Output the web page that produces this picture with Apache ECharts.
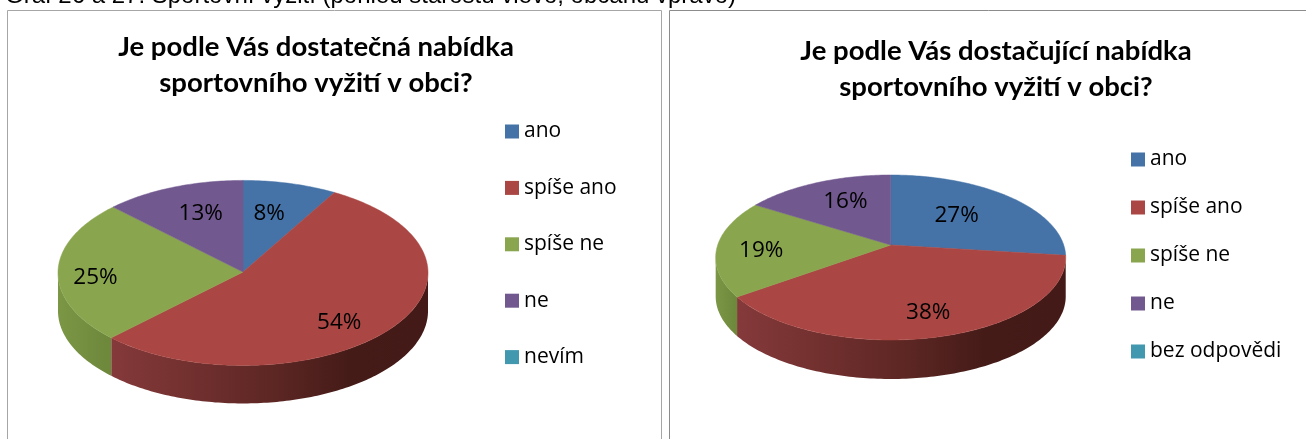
<!DOCTYPE html>
<html>
<head>
<meta charset="utf-8">
<title>Graf 26 a 27</title>
<script src="https://cdn.jsdelivr.net/npm/echarts@6/dist/echarts.min.js"></script>
<style>
html, body { margin: 0; padding: 0; background: #fff; }
#main { width: 1306px; height: 439px; }
</style>
</head>
<body>
<div id="main"></div>
<script>
var caption = 'Graf 26 a 27: Sportovní vyžití (pohled starostů vlevo, občanů vpravo)';
var titleLeft = 'Je podle Vás dostatečná nabídka\nsportovního vyžití v obci?';
var titleRight = 'Je podle Vás dostačující nabídka\nsportovního vyžití v obci?';
var categoriesLeft = ['ano', 'spíše ano', 'spíše ne', 'ne', 'nevím'];
var categoriesRight = ['ano', 'spíše ano', 'spíše ne', 'ne', 'bez odpovědi'];
var valuesLeft = [8.3, 54.2, 25, 12.5, 0];
var valuesRight = [27, 38, 19, 16, 0];

var colors = ['#4572A7', '#AA4643', '#89A54E', '#71588F', '#4198AF'];
var wallStops = [
    [[0, '#39608e'], [1, '#39608e']],
    [[0, '#85393a'], [0.5, '#5e2724'], [0.75, '#451b18'], [1, '#431a17']],
    [[0, '#7b9745'], [1, '#6d873b']],
    [[0, '#5e4878'], [1, '#5e4878']],
    [[0, '#357f94'], [1, '#357f94']]
];

// pie geometry, k is the perspective of the tilted disc
var pieLeft = { x: 243, y: 272, a: 185, b: 92.5, k: 0.01, depth: 38,
    nudge: [[-7, 4], [-7, 11], [-18, 6], [7, 1], [0, 0]] };
var pieRight = { x: 890.7, y: 245, a: 173, b: 80.6, k: 0.1515, depth: 39,
    nudge: [[-19, 5], [4, 7], [-8, 4], [8, 2], [0, 0]] };

function project(pie, deg, r) {
    var t = deg * Math.PI / 180;
    var s = Math.sin(t), c = Math.cos(t);
    var w = 1 + pie.k * r * c;
    return [pie.x + pie.a * r * s / w, pie.y - pie.b * r * c / w];
}

var renderSlice = function(pie, idx) {
    return function(params, api) {
        var value = api.value(0);
        if (!value) return { type: 'group', children: [] };
        var from = api.value(1) * 3.6;
        var to = from + value * 3.6;
        var children = [];

        // side wall, only on the front half of the disc
        var side = Math.acos(-pie.k) * 180 / Math.PI;
        var w0 = Math.max(from, side), w1 = Math.min(to, 360 - side);
        if (w1 > w0) {
            var up = [], down = [];
            for (var d = w0; d < w1; d += 1) {
                var p = project(pie, d, 1);
                up.push(p);
                down.unshift([p[0], p[1] + pie.depth]);
            }
            var pe = project(pie, w1, 1);
            up.push(pe);
            down.unshift([pe[0], pe[1] + pie.depth]);
            var xs = up.map(function(q) { return q[0]; });
            var stops = wallStops[idx].map(function(st) { return { offset: st[0], color: st[1] }; });
            children.push({
                type: 'polygon',
                shape: { points: up.concat(down) },
                style: { fill: new echarts.graphic.LinearGradient(Math.min.apply(null, xs), 0, Math.max.apply(null, xs), 0, stops, true) }
            });
        }

        // top face
        var pts = [[pie.x, pie.y]];
        for (var d2 = from; d2 < to; d2 += 1) pts.push(project(pie, d2, 1));
        pts.push(project(pie, to, 1));
        children.push({
            type: 'polygon',
            shape: { points: pts },
            style: { fill: colors[idx], stroke: colors[idx], lineWidth: 0.5 }
        });

        // percent label
        var m = project(pie, (from + to) / 2, 0.7);
        children.push({
            type: 'text',
            z2: 10,
            style: {
                x: m[0] + pie.nudge[idx][0],
                y: m[1] + pie.nudge[idx][1],
                text: Math.round(value) + '%',
                fill: '#000',
                font: '22.5px "Open Sans"',
                textAlign: 'center',
                textVerticalAlign: 'middle'
            }
        });
        return { type: 'group', children: children };
    };
};

var series = [];
var addPie = function(pie, cats, vals) {
    var start = 0;
    for (var i = 0; i < cats.length; i++) {
        series.push({
            type: 'custom',
            name: cats[i],
            coordinateSystem: 'none',
            silent: true,
            itemStyle: { color: colors[i] },
            renderItem: renderSlice(pie, i),
            data: [[vals[i], start]]
        });
        start += vals[i];
    }
};
addPie(pieLeft, categoriesLeft, valuesLeft);
addPie(pieRight, categoriesRight, valuesRight);

var titleStyle = { fontFamily: 'Lato', fontWeight: 'bold', fontSize: 27.5, lineHeight: 36, color: '#000' };
var legendText = { fontFamily: 'Open Sans', fontSize: 21, color: '#000' };

var myChart = echarts.init(document.getElementById('main'));
myChart.setOption({
    animation: false,
    backgroundColor: '#fff',
    title: [
        { text: caption, left: 5, top: -16, padding: 0, textStyle: { fontFamily: 'Liberation Sans', fontWeight: 'normal', fontSize: 24, color: '#000' } },
        { text: titleLeft, left: 316, top: 29, padding: 0, textAlign: 'center', textStyle: titleStyle },
        { text: titleRight, left: 996, top: 33, padding: 0, textAlign: 'center', textStyle: titleStyle }
    ],
    legend: [
        { data: categoriesLeft, orient: 'vertical', left: 505, top: 121, padding: 0, icon: 'rect', itemWidth: 14, itemHeight: 14, itemGap: 35.4, selectedMode: false, textStyle: legendText },
        { data: categoriesRight, orient: 'vertical', left: 1131, top: 149, padding: 0, icon: 'rect', itemWidth: 14, itemHeight: 14, itemGap: 27, selectedMode: false, textStyle: legendText }
    ],
    graphic: [
        { type: 'rect', silent: true, shape: { x: 7.5, y: 10.5, width: 654, height: 500 }, style: { fill: 'none', stroke: '#a6a6a6', lineWidth: 1 } },
        { type: 'rect', silent: true, shape: { x: 669.5, y: 10.5, width: 700, height: 500 }, style: { fill: 'none', stroke: '#8c8c8c', lineWidth: 1 } }
    ],
    series: series
});
</script>
</body>
</html>
